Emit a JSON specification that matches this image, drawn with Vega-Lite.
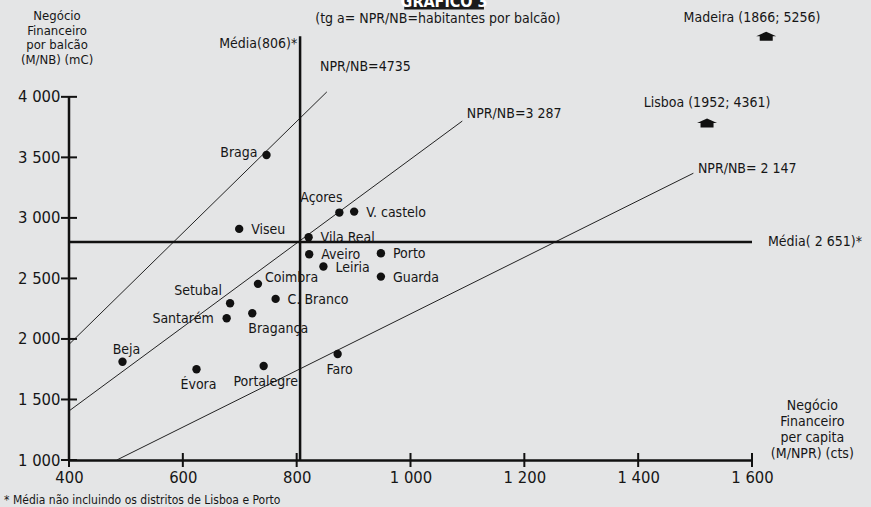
{
  "$schema": "https://vega.github.io/schema/vega-lite/v6.json",
  "autosize": "none",
  "width": 683,
  "height": 460,
  "padding": {"left": 69, "right": 119, "top": 0, "bottom": 47},
  "background": "#e4e5e6",
  "config": {
    "view": {"stroke": null},
    "font": "'Liberation Sans Narrow', 'DejaVu Sans Condensed', 'Liberation Sans', sans-serif",
    "text": {"font": "'Liberation Sans Narrow', 'DejaVu Sans Condensed', 'Liberation Sans', sans-serif", "color": "#161616", "fontSize": 14},
    "axis": {"labelFont": "'Liberation Sans Narrow', 'DejaVu Sans Condensed', 'Liberation Sans', sans-serif"}
  },
  "datasets": {
    "distritos": [
      {"distrito": "Braga", "per_capita": 747, "por_balcao": 3520},
      {"distrito": "Viseu", "per_capita": 699, "por_balcao": 2909},
      {"distrito": "Açores", "per_capita": 875, "por_balcao": 3044},
      {"distrito": "V. castelo", "per_capita": 901, "por_balcao": 3052},
      {"distrito": "Vila Real", "per_capita": 821, "por_balcao": 2840},
      {"distrito": "Aveiro", "per_capita": 822, "por_balcao": 2700},
      {"distrito": "Porto", "per_capita": 948, "por_balcao": 2708},
      {"distrito": "Leiria", "per_capita": 847, "por_balcao": 2598},
      {"distrito": "Guarda", "per_capita": 948, "por_balcao": 2515},
      {"distrito": "Coimbra", "per_capita": 732, "por_balcao": 2455},
      {"distrito": "C. Branco", "per_capita": 763, "por_balcao": 2331},
      {"distrito": "Setubal", "per_capita": 683, "por_balcao": 2295},
      {"distrito": "Santarém", "per_capita": 677, "por_balcao": 2171},
      {"distrito": "Bragança", "per_capita": 722, "por_balcao": 2212},
      {"distrito": "Beja", "per_capita": 494, "por_balcao": 1812},
      {"distrito": "Évora", "per_capita": 624, "por_balcao": 1750},
      {"distrito": "Portalegre", "per_capita": 742, "por_balcao": 1777},
      {"distrito": "Faro", "per_capita": 872, "por_balcao": 1876}
    ],
    "npr": [
      {"linha": "4735", "per_capita": 400, "por_balcao": 1955},
      {"linha": "4735", "per_capita": 853, "por_balcao": 4041},
      {"linha": "3287", "per_capita": 400, "por_balcao": 1405},
      {"linha": "3287", "per_capita": 1091, "por_balcao": 3800},
      {"linha": "2147", "per_capita": 484, "por_balcao": 1000},
      {"linha": "2147", "per_capita": 1497, "por_balcao": 3369}
    ],
    "media_v": [{"per_capita": 806, "por_balcao": 1000, "por_balcao2": 4500}],
    "media_h": [{"per_capita": 400, "per_capita2": 1600, "por_balcao": 2800}],
    "eixo_y_linha": [{"per_capita": 400, "por_balcao": 1000, "por_balcao2": 4000}],
    "eixo_x": [
      {"per_capita": 400, "por_balcao": 1000},
      {"per_capita": 600, "por_balcao": 1000},
      {"per_capita": 800, "por_balcao": 1000},
      {"per_capita": 1000, "por_balcao": 1000},
      {"per_capita": 1200, "por_balcao": 1000},
      {"per_capita": 1400, "por_balcao": 1000},
      {"per_capita": 1600, "por_balcao": 1000}
    ],
    "eixo_y": [
      {"per_capita": 400, "por_balcao": 1000},
      {"per_capita": 400, "por_balcao": 1500},
      {"per_capita": 400, "por_balcao": 2000},
      {"per_capita": 400, "por_balcao": 2500},
      {"per_capita": 400, "por_balcao": 3000},
      {"per_capita": 400, "por_balcao": 3500},
      {"per_capita": 400, "por_balcao": 4000}
    ],
    "fora": [
      {"distrito": "Madeira", "per_capita": 1625, "por_balcao": 4501},
      {"distrito": "Lisboa", "per_capita": 1521, "por_balcao": 3783}
    ],
    "anot_esq": [
      {"texto": "NPR/NB=4735", "per_capita": 841, "por_balcao": 4245},
      {"texto": "NPR/NB=3 287", "per_capita": 1099, "por_balcao": 3857},
      {"texto": "NPR/NB= 2 147", "per_capita": 1505, "por_balcao": 3400},
      {"texto": "Média( 2 651)*", "per_capita": 1628, "por_balcao": 2800}
    ],
    "anot_dir": [
      {"texto": "Média(806)*", "per_capita": 801, "por_balcao": 4435}
    ],
    "anot_centro": [
      {"texto": "(tg a= NPR/NB=habitantes por balcão)", "per_capita": 1048, "por_balcao": 4645},
      {"texto": "Madeira (1866; 5256)", "per_capita": 1600, "por_balcao": 4650},
      {"texto": "Lisboa (1952; 4361)", "per_capita": 1521, "por_balcao": 3948}
    ],
    "titulo_y": [
      {"texto": ["Negócio", "Financeiro", "por balcão", "(M/NB) (mC)"], "per_capita": 379, "por_balcao": 4715}
    ],
    "titulo_x": [
      {"texto": ["Negócio", "Financeiro", "per capita", "(M/NPR) (cts)"], "per_capita": 1706, "por_balcao": 1500}
    ],
    "nota": [
      {"texto": "* Média não incluindo os distritos de Lisboa e Porto", "per_capita": 286, "por_balcao": 640}
    ],
    "cabecalho": [
      {"texto": "GRAFICO 3", "per_capita": 989, "per_capita2": 1129, "por_balcao": 4722, "por_balcao2": 4950, "centro": 1059, "base": 4745}
    ]
  },
  "encoding": {
    "x": {
      "field": "per_capita", "type": "quantitative",
      "scale": {"domain": [400, 1600], "nice": false, "zero": false},
      "axis": {
        "title": null, "values": [400, 600, 800, 1000, 1200, 1400, 1600],
        "ticks": false, "grid": false, "domainColor": "#111111", "domainWidth": 2.5,
        "labelFontSize": 16.5, "labelColor": "#161616", "labelPadding": 9,
        "labelOverlap": false, "labelFlush": false,
        "labelExpr": "replace(format(datum.value, ','), ',', ' ')"
      }
    },
    "y": {
      "field": "por_balcao", "type": "quantitative",
      "scale": {"domain": [1000, 4800], "nice": false, "zero": false},
      "axis": {
        "title": null, "values": [1000, 1500, 2000, 2500, 3000, 3500, 4000],
        "ticks": false, "grid": false, "domain": false,
        "labelFontSize": 16.5, "labelColor": "#161616", "labelPadding": 9,
        "labelOverlap": false, "labelFlush": false,
        "labelExpr": "replace(format(datum.value, ','), ',', ' ')"
      }
    }
  },
  "layer": [
    {
      "data": {"name": "cabecalho"},
      "mark": {"type": "rect", "color": "#1b1b1b"},
      "encoding": {"x2": {"field": "per_capita2"}, "y2": {"field": "por_balcao2"}}
    },
    {
      "data": {"name": "cabecalho"},
      "mark": {"type": "text", "color": "#ffffff", "fontSize": 16, "fontWeight": "bold", "baseline": "alphabetic", "align": "center"},
      "encoding": {"x": {"field": "centro", "type": "quantitative"}, "y": {"field": "base", "type": "quantitative"}, "text": {"field": "texto"}}
    },
    {
      "data": {"name": "npr"},
      "mark": {"type": "line", "color": "#222222", "strokeWidth": 1},
      "encoding": {"detail": {"field": "linha"}}
    },
    {
      "data": {"name": "media_v"},
      "mark": {"type": "rule", "color": "#111111", "strokeWidth": 2.5},
      "encoding": {"y2": {"field": "por_balcao2"}}
    },
    {
      "data": {"name": "media_h"},
      "mark": {"type": "rule", "color": "#111111", "strokeWidth": 2.5},
      "encoding": {"x2": {"field": "per_capita2"}}
    },
    {
      "data": {"name": "eixo_y_linha"},
      "mark": {"type": "rule", "color": "#111111", "strokeWidth": 2.5},
      "encoding": {"y2": {"field": "por_balcao2"}}
    },
    {
      "data": {"name": "eixo_x"},
      "mark": {"type": "tick", "orient": "vertical", "size": 14, "thickness": 2, "color": "#111111", "opacity": 1}
    },
    {
      "data": {"name": "eixo_y"},
      "mark": {"type": "tick", "orient": "horizontal", "size": 16, "thickness": 2, "color": "#111111", "opacity": 1}
    },
    {
      "data": {"name": "distritos"},
      "mark": {"type": "circle", "size": 70, "color": "#111111", "opacity": 1}
    },
    {
      "data": {"name": "fora"},
      "mark": {"type": "point", "filled": true, "size": 400, "color": "#111111", "opacity": 1,
               "shape": "M -1 0 L 0 -0.45 L 1 0 L 0.65 0 L 0.65 0.45 L -0.65 0.45 L -0.65 0 Z"}
    },
    {
      "data": {"name": "distritos"},
      "transform": [{"filter": {"field": "distrito", "oneOf": ["Viseu", "V. castelo", "Vila Real", "Aveiro", "Porto", "Leiria", "Guarda", "C. Branco"]}}],
      "mark": {"type": "text", "align": "left", "baseline": "middle", "dx": 12, "dy": 1},
      "encoding": {"text": {"field": "distrito"}}
    },
    {
      "data": {"name": "distritos"},
      "transform": [{"filter": {"field": "distrito", "equal": "Coimbra"}}],
      "mark": {"type": "text", "align": "left", "baseline": "middle", "dx": 7, "dy": -6},
      "encoding": {"text": {"field": "distrito"}}
    },
    {
      "data": {"name": "distritos"},
      "transform": [{"filter": {"field": "distrito", "equal": "Braga"}}],
      "mark": {"type": "text", "align": "right", "baseline": "middle", "dx": -9, "dy": -2},
      "encoding": {"text": {"field": "distrito"}}
    },
    {
      "data": {"name": "distritos"},
      "transform": [{"filter": {"field": "distrito", "equal": "Santarém"}}],
      "mark": {"type": "text", "align": "right", "baseline": "middle", "dx": -13, "dy": 1},
      "encoding": {"text": {"field": "distrito"}}
    },
    {
      "data": {"name": "distritos"},
      "transform": [{"filter": {"field": "distrito", "equal": "Setubal"}}],
      "mark": {"type": "text", "align": "right", "baseline": "middle", "dx": -8, "dy": -12},
      "encoding": {"text": {"field": "distrito"}}
    },
    {
      "data": {"name": "distritos"},
      "transform": [{"filter": {"field": "distrito", "oneOf": ["Évora", "Portalegre", "Faro"]}}],
      "mark": {"type": "text", "align": "center", "baseline": "middle", "dx": 2, "dy": 16},
      "encoding": {"text": {"field": "distrito"}}
    },
    {
      "data": {"name": "distritos"},
      "transform": [{"filter": {"field": "distrito", "equal": "Bragança"}}],
      "mark": {"type": "text", "align": "left", "baseline": "middle", "dx": -4, "dy": 16},
      "encoding": {"text": {"field": "distrito"}}
    },
    {
      "data": {"name": "distritos"},
      "transform": [{"filter": {"field": "distrito", "equal": "Beja"}}],
      "mark": {"type": "text", "align": "center", "baseline": "middle", "dx": 4, "dy": -12},
      "encoding": {"text": {"field": "distrito"}}
    },
    {
      "data": {"name": "distritos"},
      "transform": [{"filter": {"field": "distrito", "equal": "Açores"}}],
      "mark": {"type": "text", "align": "center", "baseline": "middle", "dx": -18, "dy": -15},
      "encoding": {"text": {"field": "distrito"}}
    },
    {
      "data": {"name": "anot_esq"},
      "mark": {"type": "text", "align": "left", "baseline": "middle"},
      "encoding": {"text": {"field": "texto"}}
    },
    {
      "data": {"name": "anot_dir"},
      "mark": {"type": "text", "align": "right", "baseline": "middle"},
      "encoding": {"text": {"field": "texto"}}
    },
    {
      "data": {"name": "anot_centro"},
      "mark": {"type": "text", "align": "center", "baseline": "middle"},
      "encoding": {"text": {"field": "texto"}}
    },
    {
      "data": {"name": "titulo_y"},
      "mark": {"type": "text", "align": "center", "baseline": "top", "fontSize": 13, "lineHeight": 14.5},
      "encoding": {"text": {"field": "texto"}}
    },
    {
      "data": {"name": "titulo_x"},
      "mark": {"type": "text", "align": "center", "baseline": "top", "fontSize": 14, "lineHeight": 15.8},
      "encoding": {"text": {"field": "texto"}}
    },
    {
      "data": {"name": "nota"},
      "mark": {"type": "text", "align": "left", "baseline": "alphabetic", "fontSize": 12},
      "encoding": {"text": {"field": "texto"}}
    }
  ]
}
